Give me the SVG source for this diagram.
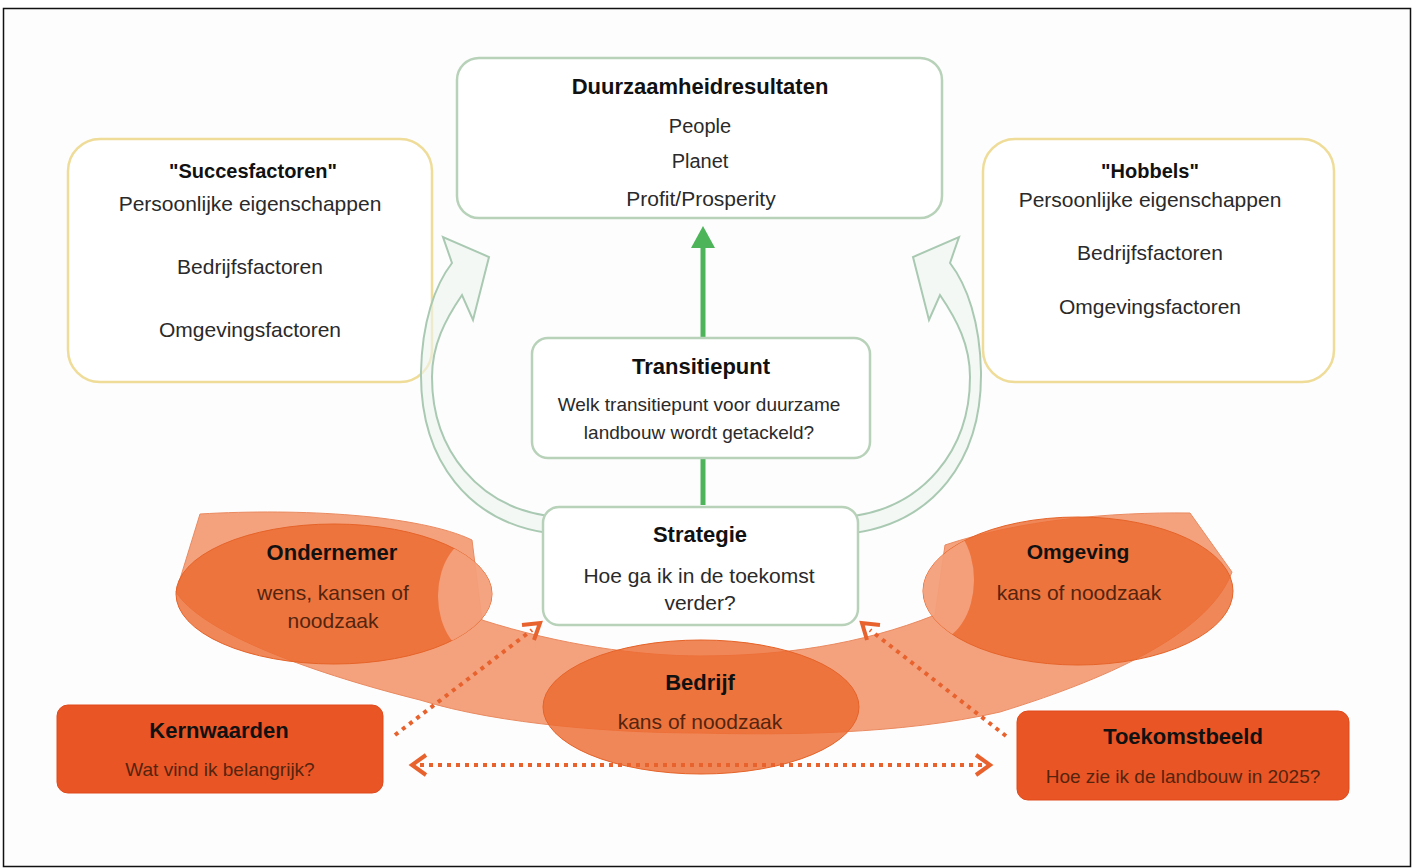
<svg xmlns="http://www.w3.org/2000/svg" width="1417" height="868" viewBox="0 0 1417 868">
<defs>
<style>
.t{font-family:"Liberation Sans",Arial,sans-serif;text-anchor:middle;fill:#2a2a2a}
.b{font-weight:bold;fill:#111}
.s22{font-size:22px}
.s21{font-size:21px}
.s20{font-size:20px}
.s19{font-size:19px}
.ob{fill:#55240e}
.gbox{fill:#ffffff;stroke:#b8d2ba;stroke-width:2.5}
.ybox{fill:#ffffff;stroke:#eedc98;stroke-width:2.5}
.curv{fill:#eef5f0;fill-opacity:0.6;stroke:#a9c9b2;stroke-width:2}
.dot{fill:none;stroke:#e8622e;stroke-width:4;stroke-dasharray:4 5}
.chev{fill:none;stroke:#e8622e;stroke-width:4;stroke-linejoin:miter}
.ell{fill:#ec692e;fill-opacity:0.8;stroke:#e56328;stroke-width:1}
.obox{fill:#ea5525;stroke:#e04a1c;stroke-width:1}
</style>
<clipPath id="cOnd"><ellipse cx="334" cy="594" rx="158" ry="70"/></clipPath>
<clipPath id="cOmg"><ellipse cx="1078" cy="591" rx="155" ry="74"/></clipPath>
</defs>
<rect x="0" y="0" width="1417" height="868" fill="#ffffff"/>
<rect x="3.5" y="8.5" width="1407" height="858" fill="#fdfdfd" stroke="#111" stroke-width="1.5"/>

<g id="band">
<path d="M 200,514 C 300,508 420,515 472,540 L 482,620 C 560,645 640,656 700,656 C 780,656 860,645 935,615 L 945,545 C 1020,520 1110,512 1190,513 L 1232,572 C 1210,630 1120,675 1000,712 C 900,735 780,735 700,733 C 620,733 500,725 420,700 C 300,670 200,630 176,592 Z" fill="#f4a27e" stroke="#ea8a60" stroke-width="1"/>
</g>

<g id="ondernemer">
<ellipse class="ell" cx="334" cy="594" rx="158" ry="70"/>
<ellipse cx="480" cy="596" rx="42" ry="60" fill="#f6ad8e" fill-opacity="0.75" clip-path="url(#cOnd)"/>
<text class="t b s22" x="332" y="560">Ondernemer</text>
<text class="t s21 ob" x="333" y="600">wens, kansen of</text>
<text class="t s21 ob" x="333" y="628">noodzaak</text>
</g>

<g id="omgeving">
<ellipse class="ell" cx="1078" cy="591" rx="155" ry="74"/>
<ellipse cx="932" cy="580" rx="42" ry="62" fill="#f6ad8e" fill-opacity="0.75" clip-path="url(#cOmg)"/>
<text class="t b s21" x="1078" y="559">Omgeving</text>
<text class="t s21 ob" x="1079" y="600">kans of noodzaak</text>
</g>

<g id="bedrijf">
<ellipse class="ell" cx="701" cy="707" rx="158" ry="67"/>
<text class="t b s22" x="700" y="690">Bedrijf</text>
<text class="t s21 ob" x="700" y="729">kans of noodzaak</text>
</g>

<g id="duurzaamheid">
<rect class="gbox" x="457" y="58" width="485" height="160" rx="22"/>
<text class="t b s22" x="700" y="94">Duurzaamheidresultaten</text>
<text class="t s20" x="700" y="133">People</text>
<text class="t s20" x="700" y="168">Planet</text>
<text class="t s21" x="701" y="206">Profit/Prosperity</text>
</g>

<g id="succesfactoren">
<rect class="ybox" x="68" y="139" width="364" height="243" rx="32"/>
<text class="t b s20" x="253" y="178">"Succesfactoren"</text>
<text class="t s21" x="250" y="211">Persoonlijke eigenschappen</text>
<text class="t s21" x="250" y="274">Bedrijfsfactoren</text>
<text class="t s21" x="250" y="337">Omgevingsfactoren</text>
</g>

<g id="hobbels">
<rect class="ybox" x="983" y="139" width="351" height="243" rx="32"/>
<text class="t b s20" x="1150" y="178">"Hobbels"</text>
<text class="t s21" x="1150" y="207">Persoonlijke eigenschappen</text>
<text class="t s21" x="1150" y="260">Bedrijfsfactoren</text>
<text class="t s21" x="1150" y="314">Omgevingsfactoren</text>
</g>

<g id="connectors">
<path class="curv" d="M 548,533 C 470,522 420,462 421,372 C 422,322 435,285 452,263 L 443,237 L 489,257 L 473,320 L 462,295 C 445,320 432,345 432,377 C 432,452 480,506 548,516 Z"/>
<path class="curv" transform="translate(1402,0) scale(-1,1)" d="M 548,533 C 470,522 420,462 421,372 C 422,322 435,285 452,263 L 443,237 L 489,257 L 473,320 L 462,295 C 445,320 432,345 432,377 C 432,452 480,506 548,516 Z"/>
<line x1="703" y1="338" x2="703" y2="245" stroke="#4db45a" stroke-width="5"/>
<polygon points="703,226 691,248 715,248" fill="#4db45a"/>
<line x1="703" y1="458" x2="703" y2="505" stroke="#4db45a" stroke-width="5"/>
<path class="dot" d="M 395,735 L 532,630"/>
<polyline class="chev" points="522,625 540,623 534,640"/>
<path class="dot" d="M 1006,736 L 870,630"/>
<polyline class="chev" points="880,625 862,623 867,640"/>
<path class="dot" d="M 420,765 L 982,765"/>
<polyline class="chev" points="426,755 412,765 426,775"/>
<polyline class="chev" points="976,755 990,765 976,775"/>
</g>

<g id="transitiepunt">
<rect class="gbox" x="532" y="338" width="338" height="120" rx="16"/>
<text class="t b s22" x="701" y="374">Transitiepunt</text>
<text class="t s19" x="699" y="411">Welk transitiepunt voor duurzame</text>
<text class="t s19" x="699" y="439">landbouw wordt getackeld?</text>
</g>

<g id="strategie">
<rect class="gbox" x="543" y="507" width="315" height="118" rx="16"/>
<text class="t b s22" x="700" y="542">Strategie</text>
<text class="t s21" x="699" y="583">Hoe ga ik in de toekomst</text>
<text class="t s21" x="700" y="610">verder?</text>
</g>

<g id="kernwaarden">
<rect class="obox" x="57" y="705" width="326" height="88" rx="11"/>
<text class="t b s22" x="219" y="738">Kernwaarden</text>
<text class="t s19 ob" x="220" y="776">Wat vind ik belangrijk?</text>
</g>

<g id="toekomstbeeld">
<rect class="obox" x="1017" y="711" width="332" height="89" rx="11"/>
<text class="t b s22" x="1183" y="744">Toekomstbeeld</text>
<text class="t s19 ob" x="1183" y="783">Hoe zie ik de landbouw in 2025?</text>
</g>
</svg>
